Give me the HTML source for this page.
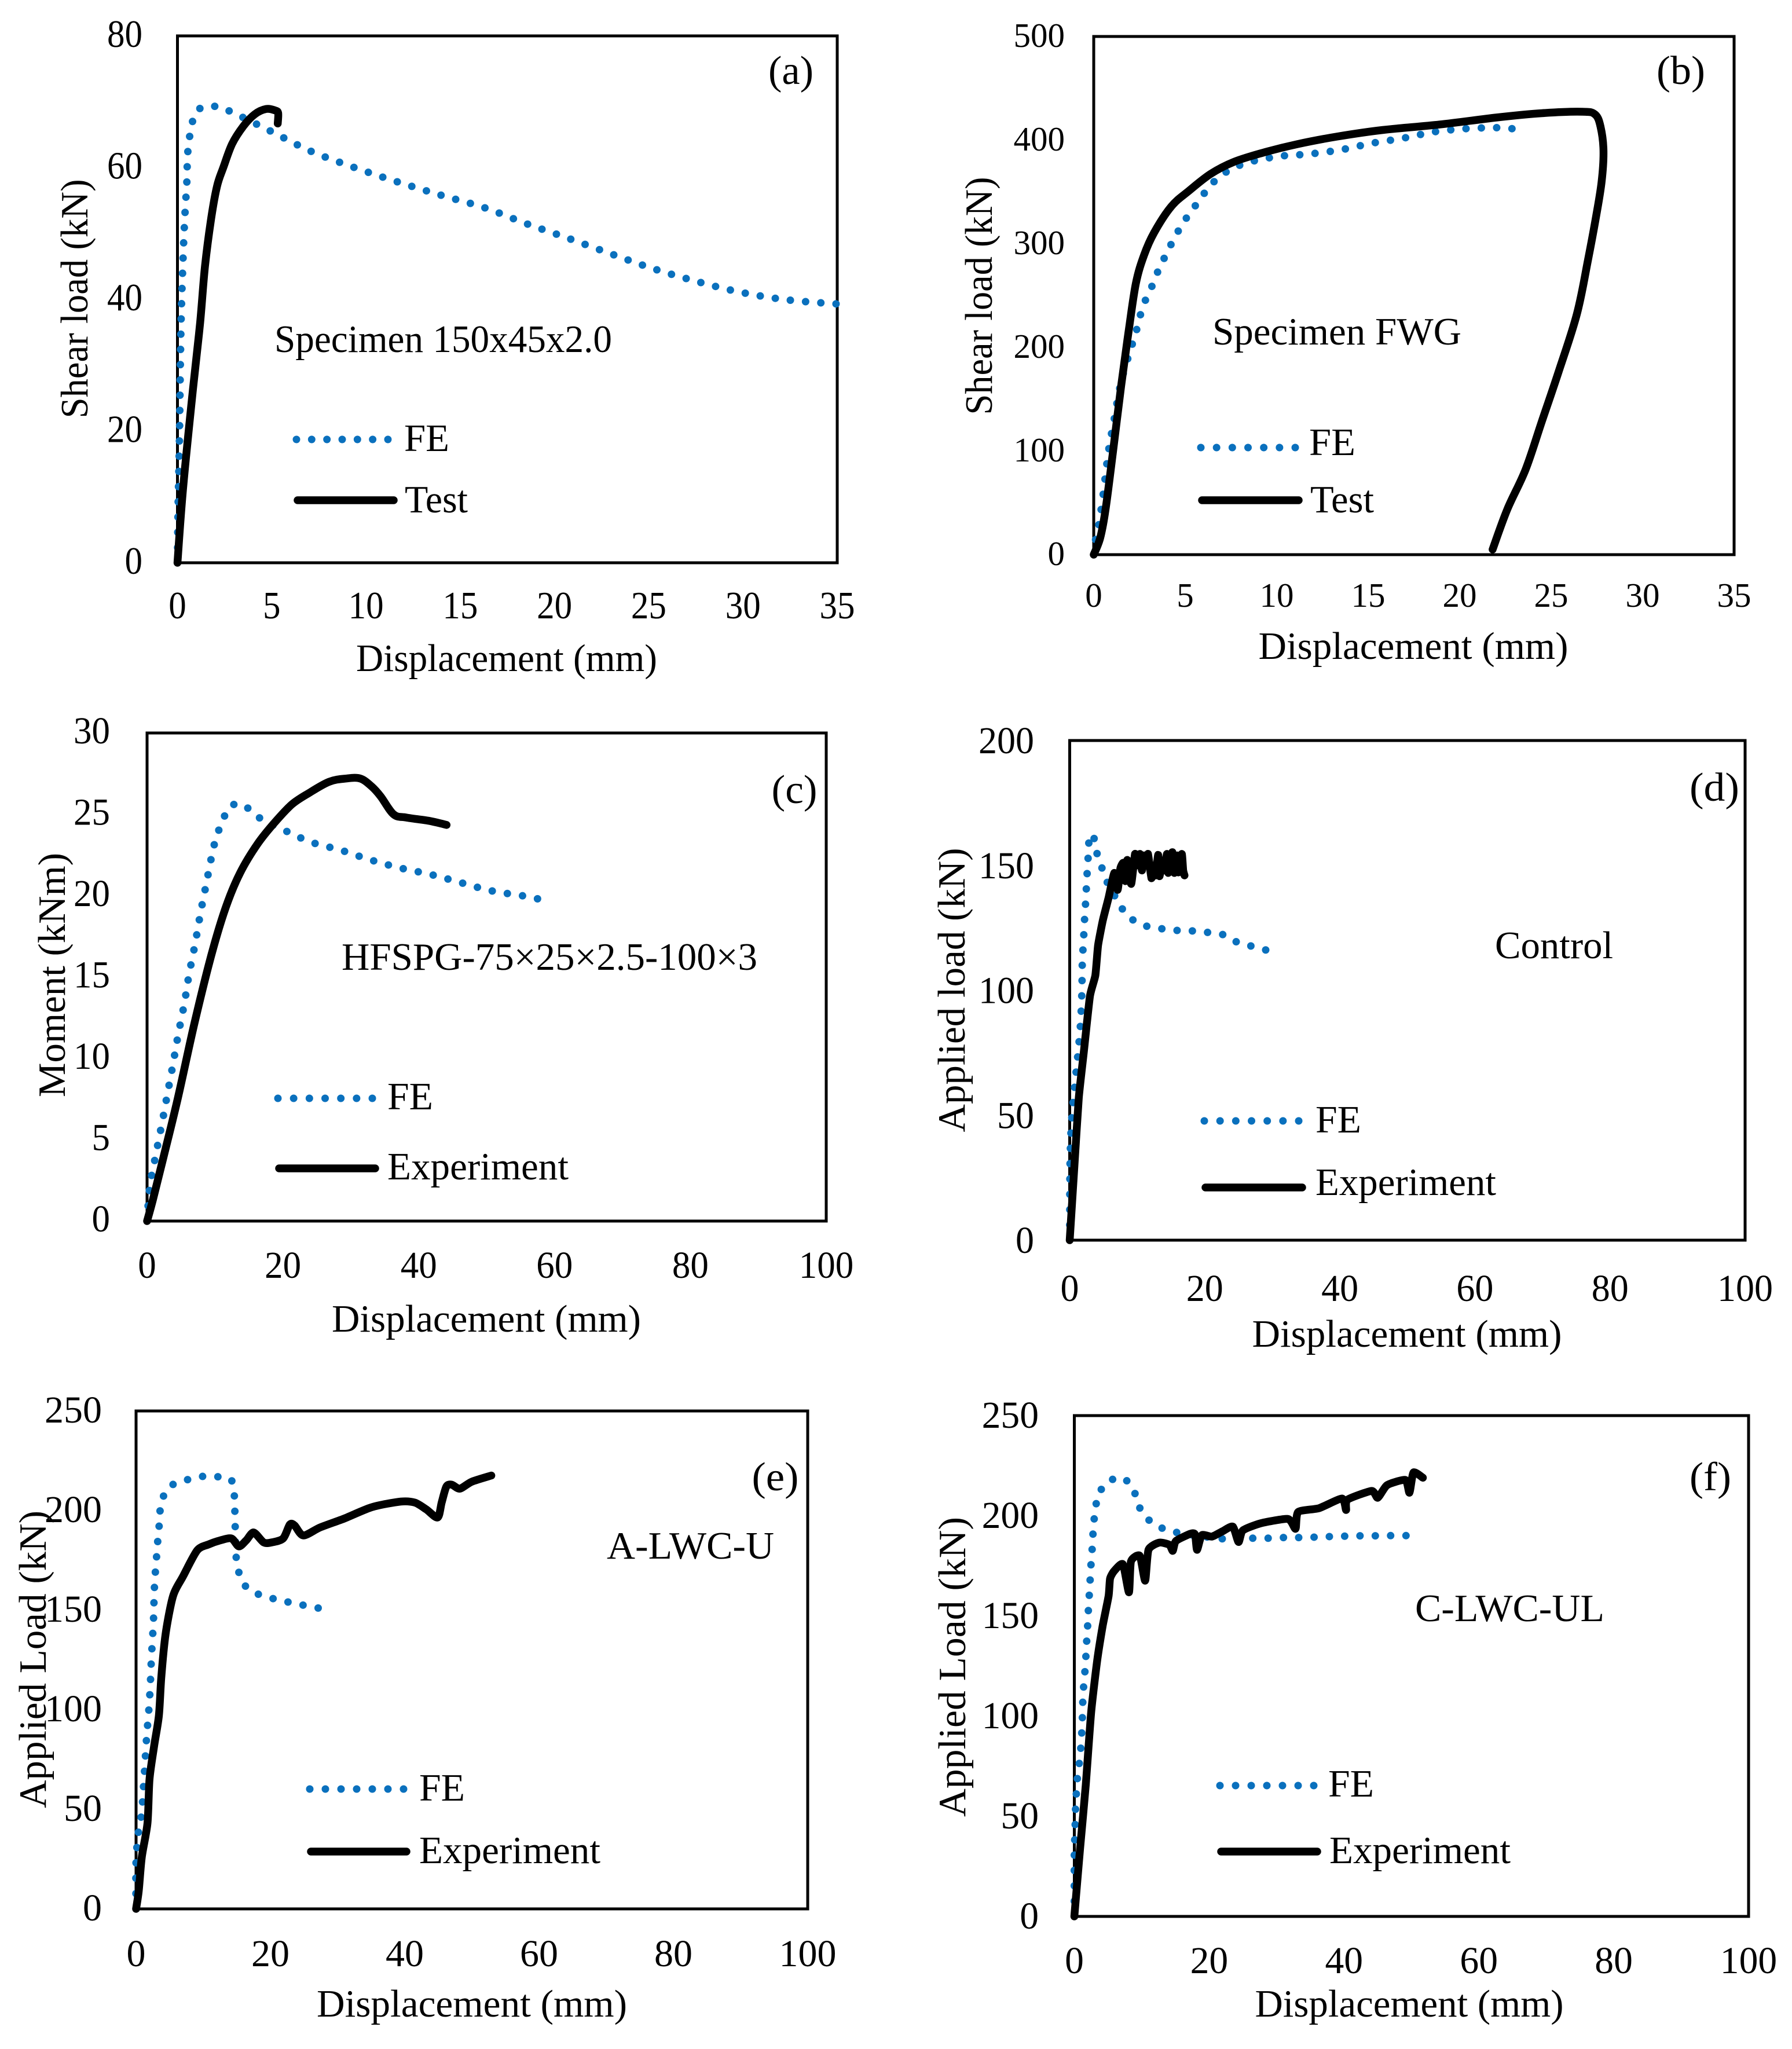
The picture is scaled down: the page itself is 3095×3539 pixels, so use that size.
<!DOCTYPE html>
<html lang="en">
<head>
<meta charset="utf-8">
<title>Load-displacement comparison of FE and test results</title>
<style>
html,body{margin:0;padding:0;background:#fff;width:3095px;height:3539px;overflow:hidden}
svg{display:block}
text{font-family:"Liberation Serif","Times New Roman",serif;fill:#000}
</style>
</head>
<body>
<svg id="figure" xmlns="http://www.w3.org/2000/svg" width="3095" height="3539" viewBox="0 0 3095 3539"></svg>
<script>
// ---------- Panel (a) ----------
const aXTicks = [0, 5, 10, 15, 20, 25, 30, 35];
const aYTicks = [0, 20, 40, 60, 80];
const aFeX = [0, 0.03, 0.1, 0.18, 0.3, 0.4, 0.5, 0.55, 0.8, 1.2, 2, 2.75, 4.9, 7.07, 9.4, 11.6, 14, 16.3, 18.5, 20.8, 23.1, 25.3, 27.7, 30, 32.4, 35];
const aFeY = [0, 8, 18, 35, 46.5, 53, 58, 62.4, 67, 69, 69.3, 68.6, 65.6, 62.5, 60, 57.9, 55.8, 53.9, 51.5, 49.2, 46.8, 44.6, 42.6, 41, 39.9, 39.3];
const aTestX = [0, 0.3, 0.82, 1.2, 1.46, 1.8, 2.1, 2.43, 2.9, 3.5, 4.1, 4.7, 5.16, 5.34, 5.32];
const aTestY = [0, 11.4, 26.3, 36.4, 45, 52.5, 57.2, 60, 63.6, 66.3, 68.1, 68.9, 68.7, 68.3, 66.7];

// ---------- Panel (b) ----------
const bXTicks = [0, 5, 10, 15, 20, 25, 30, 35];
const bYTicks = [0, 100, 200, 300, 400, 500];
const bFeX = [0, 0.03, 0.25, 0.5, 0.8, 1.1, 1.5, 2, 2.3, 2.5, 2.74, 3.1, 3.4, 3.74, 4.1, 4.5, 4.92, 5.4, 5.9, 6.4, 7.35, 8.35, 9.35, 10.2, 11.9, 13.6, 15.2, 16.95, 18.6, 20.3, 22, 22.9];
const bFeY = [0, 9, 26, 56, 99, 129, 167, 197, 214, 228, 242, 255.5, 269, 282, 295, 308.5, 321, 333, 345, 357, 370.5, 378, 382, 384.6, 386.8, 391, 397, 402, 408, 411, 412, 411];
const bTestX = [0, 0.35, 0.65, 1.05, 1.5, 1.9, 2.3, 2.75, 3.3, 4.24, 5.2, 6.4, 7.66, 9.2, 11.1, 13.3, 15.8, 18.9, 22, 24.5, 26.7, 27.4, 27.7, 27.86, 27.76, 27.45, 27, 26.4, 25.4, 24.5, 23.6, 22.6, 21.8];
const bTestY = [0, 16, 44, 99, 163, 214.5, 261.5, 289, 310.7, 336, 351, 367.5, 379, 387.6, 396, 403.4, 409.8, 415, 421.8, 426, 427.4, 424.8, 413, 389.7, 360, 325.6, 283, 231.6, 176, 129, 82, 43.6, 5];

// ---------- Panel (c) ----------
const cXTicks = [0, 20, 40, 60, 80, 100];
const cYTicks = [0, 5, 10, 15, 20, 25, 30];
const cFeX = [0, 0.4, 1.2, 2.1, 2.95, 3.8, 4.6, 5.5, 6.2, 7.1, 7.9, 8.8, 9.7, 10.3, 11.1, 12.3, 14.1, 15.8, 17.7, 19.8, 24.1, 28.5, 32.9, 37.3, 41.8, 46.2, 50.7, 55.2, 57.6];
const cFeY = [0, 2.1, 3.9, 5.8, 7.7, 9.6, 11.5, 13.4, 15.2, 17.1, 19, 20.9, 22.8, 23.7, 24.6, 25.5, 25.6, 25, 24.5, 24.1, 23.3, 22.8, 22.2, 21.7, 21.3, 20.8, 20.3, 20, 19.8];
const cTestX = [0, 0.85, 2.4, 4.5, 7, 9.5, 11.6, 13.7, 16.3, 18.8, 21.3, 23.8, 26.8, 29.3, 31.4, 33.1, 34.4, 36.3, 38.2, 41.5, 44.1];
const cTestY = [0, 1.3, 3.9, 7.5, 12.2, 16.4, 19.3, 21.4, 23.2, 24.5, 25.6, 26.3, 27, 27.2, 27.2, 26.7, 26.1, 25, 24.8, 24.6, 24.35];

// ---------- Panel (d) ----------
const dXTicks = [0, 20, 40, 60, 80, 100];
const dYTicks = [0, 50, 100, 150, 200];
const dFeX = [0, 0.05, 0.3, 0.75, 1.2, 1.6, 1.8, 1.87, 2, 2.12, 2.24, 2.38, 2.5, 2.63, 2.78, 2.92, 3.49, 3.95, 4.66, 5.43, 6.54, 7.68, 9.2, 11.26, 13.5, 15.8, 18.1, 20.4, 22.7, 24.7, 26.9, 29.1];
const dFeY = [0, 31, 48.4, 62, 74, 86.7, 99.4, 111.5, 117.7, 124, 130.2, 136.4, 142.8, 149, 155.2, 161.4, 162, 155.7, 149.9, 144, 138.4, 133, 128.5, 125.8, 124.7, 124, 123.8, 123.2, 122.3, 119.4, 117.7, 116.1];
const dTestX = [0, 0.7, 1.35, 2.1, 3, 3.8, 4.2, 4.9, 5.75, 6.6, 7.1, 7.5, 7.96, 8.25, 8.53, 9.1, 9.67, 10, 10.4, 10.7, 11, 11.3, 11.6, 12.1, 12.5, 12.7, 13.1, 13.3, 13.7, 14, 14.4, 14.6, 15.2, 15.5, 15.9, 16.1, 16.6, 16.8, 17];
const dTestY = [0, 30, 57, 75.6, 97.7, 106, 118, 128, 137, 147, 140.2, 148.8, 151, 143.7, 152.2, 142.6, 154.6, 150, 154.6, 148, 154, 150, 154.6, 144.9, 150, 146, 154.2, 145.7, 152, 148, 154.6, 147, 155.3, 147, 154, 147.2, 154.6, 148, 146];

// ---------- Panel (e) ----------
const eXTicks = [0, 20, 40, 60, 80, 100];
const eYTicks = [0, 50, 100, 150, 200, 250];
const eFeX = [0, 0, 0.4, 0.85, 1, 1.3, 1.45, 1.6, 1.8, 1.96, 2.1, 2.2, 2.3, 2.56, 2.64, 2.7, 2.8, 3, 3.15, 3.4, 3.5, 3.84, 5, 7.2, 9.5, 11.7, 14, 14.6, 14.75, 14.9, 15.3, 16.3, 18.2, 20.5, 22.7, 24.9, 27.2];
const eFeY = [0, 23.8, 40, 48, 56, 71.5, 79.7, 87.6, 95.6, 103, 111, 119, 127, 142.6, 150.6, 158, 166, 174, 182, 190, 197, 205, 212, 215, 217, 217, 216, 208.5, 193, 177, 169, 162, 158, 155.7, 154, 152.5, 151];
const eTestX = [0, 0.4, 0.85, 1.7, 2, 2.7, 3.4, 3.75, 4.4, 5.5, 7, 9.1, 10.8, 12.5, 14.2, 15.3, 16.4, 17.5, 19, 20.2, 21.9, 22.9, 23.6, 24.9, 27.4, 31, 35.1, 39.4, 41.5, 43.2, 44.9, 45.5, 46.2, 47, 48.2, 50, 52.9];
const eTestY = [0, 9, 26, 43, 65, 82, 97, 116, 138, 157, 167, 180, 183, 185, 186, 182, 185, 189, 184, 184, 186, 193, 192.5, 187.5, 191.5, 196, 201.7, 204.5, 204, 200.6, 196.5, 204, 212, 213, 211, 214.5, 217.6];

// ---------- Panel (f) ----------
const fXTicks = [0, 20, 40, 60, 80, 100];
const fYTicks = [0, 50, 100, 150, 200, 250];
const fFeX = [0, 0, 0.1, 0.2, 0.5, 0.85, 1, 1.15, 1.3, 1.65, 1.76, 1.92, 2.03, 2.15, 2.3, 2.41, 2.6, 2.72, 2.88, 3.14, 3.7, 5.2, 7.2, 8.76, 9.45, 10.7, 12.6, 14.7, 21.6, 23.85, 26.1, 28.5, 30.8, 33, 35.4, 37.7, 40, 42.3, 44.6, 46.9, 49.3];
const fFeY = [0, 31, 42, 55, 71, 79, 87, 95, 110.7, 125.6, 133.8, 141.5, 149.3, 157, 165, 172.8, 181, 188.5, 196, 204, 211.5, 217.3, 218.8, 213, 205.7, 199, 194.6, 192, 188.6, 188.8, 188.8, 188.8, 189.1, 189.1, 189.3, 189.6, 189.8, 190, 190, 190.1, 190.1];
const fTestX = [0, 0.85, 1.7, 2.5, 3.4, 4.2, 5.08, 5.3, 5.9, 7.2, 8.1, 8.4, 9.7, 10.5, 11, 12.6, 14.1, 14.6, 15.07, 17.2, 17.9, 18.2, 18.9, 20.4, 21.95, 23.5, 24.35, 25, 27.7, 31.7, 32.8, 33.2, 36.3, 39.7, 40.3, 40.5, 44.1, 45, 46.4, 49.1, 49.7, 50.3, 51.7];
const fTestY = [0, 33.8, 65.8, 102, 128, 145, 160, 168.6, 172.4, 175.8, 161.8, 177.2, 180, 167.6, 183, 186.6, 185.5, 182.5, 187.4, 191, 190.7, 183, 190.3, 189.6, 192.2, 194.6, 186.9, 192.7, 196.3, 198.4, 193.5, 201.9, 203.8, 208.6, 202.9, 208, 212.4, 209, 215.3, 217.9, 211.5, 221.6, 219];

const FE_COLOR = '#0a70bd';
const TEXT_SIZE = 67;
const NS = 'http://www.w3.org/2000/svg';
const figure = document.getElementById('figure');

function makeSvg(tag, parent) {
  const el = document.createElementNS(NS, tag);
  parent.appendChild(el);
  return el;
}

function addText(parent, str, x, y, size, anchor, fitWidth) {
  const t = makeSvg('text', parent);
  t.textContent = str;
  t.setAttribute('x', x);
  t.setAttribute('y', y);
  t.setAttribute('font-size', size);
  t.setAttribute('text-anchor', anchor);
  if (fitWidth) {
    t.setAttribute('textLength', fitWidth);
    t.setAttribute('lengthAdjust', 'spacingAndGlyphs');
  }
  return t;
}

function drawCurve(parent, xs, ys, sx, sy, smooth) {
  const path = makeSvg('path', parent);
  const px = xs.map(sx);
  const py = ys.map(sy);
  let d = 'M' + px[0].toFixed(1) + ' ' + py[0].toFixed(1);
  for (let i = 0; i < px.length - 1; i++) {
    const a = Math.max(i - 1, 0);
    const b = Math.min(i + 2, px.length - 1);
    const k = smooth / 6;
    const c1x = px[i] + (px[i + 1] - px[a]) * k;
    const c1y = py[i] + (py[i + 1] - py[a]) * k;
    const c2x = px[i + 1] - (px[b] - px[i]) * k;
    const c2y = py[i + 1] - (py[b] - py[i]) * k;
    d += 'C' + c1x.toFixed(1) + ' ' + c1y.toFixed(1) + ' ' + c2x.toFixed(1) + ' ' + c2y.toFixed(1) + ' ' + px[i + 1].toFixed(1) + ' ' + py[i + 1].toFixed(1);
  }
  path.setAttribute('d', d);
  path.setAttribute('fill', 'none');
  path.setAttribute('stroke-linecap', 'round');
  path.setAttribute('stroke-linejoin', 'round');
  return path;
}

function drawPanel(p) {
  const g = makeSvg('g', figure);
  
  

  const xMax = p.xTicks[p.xTicks.length - 1];
  const yMax = p.yTicks[p.yTicks.length - 1];
  const sx = v => p.left + (p.right - p.left) * v / xMax;
  const sy = v => p.bottom - (p.bottom - p.top) * v / yMax;

  const frame = makeSvg('rect', g);
  
  
  frame.setAttribute('x', p.left);
  frame.setAttribute('y', p.top);
  frame.setAttribute('width', p.right - p.left);
  frame.setAttribute('height', p.bottom - p.top);
  frame.setAttribute('fill', '#fff');
  frame.setAttribute('stroke', '#000');
  frame.setAttribute('stroke-width', '5');

  p.xTicks.forEach(v => {
    const s = String(v);
    const t = addText(g, s, sx(v), p.xLabelY, p.tickSize, 'middle', s.length * p.digitW);
    
    
  });
  p.yTicks.forEach(v => {
    const s = String(v);
    const t = addText(g, s, p.yLabelX, sy(v) + p.yLabelDy, p.tickSize, 'end', s.length * p.digitW);
    
    
  });

  const xTitle = addText(g, 'Displacement (mm)', p.xTitle[0], p.xTitle[1], TEXT_SIZE, 'middle', p.xTitle[2]);
  
  

  const yTitle = addText(g, p.yTitleText, p.yTitle[0], p.yTitle[1], TEXT_SIZE, 'middle', p.yTitle[2]);
  
  
  yTitle.setAttribute('transform', 'rotate(-90 ' + p.yTitle[0] + ' ' + p.yTitle[1] + ')');

  const letter = addText(g, p.letter, p.letterPos[0], p.letterPos[1], 70, 'middle', p.letterPos[2]);
  
  

  const note = addText(g, p.note, p.notePos[0], p.notePos[1], TEXT_SIZE, 'start', p.notePos[2]);
  
  

  const fe = drawCurve(g, p.feX, p.feY, sx, sy, 1);
  
  
  fe.setAttribute('stroke', FE_COLOR);
  fe.setAttribute('stroke-width', '13');
  const feLength = fe.getTotalLength();
  fe.setAttribute('stroke-dasharray', '0 ' + (feLength / Math.round(feLength / 26.5) - 0.03).toFixed(3));

  const test = drawCurve(g, p.testX, p.testY, sx, sy, p.smooth);
  
  
  test.setAttribute('stroke', '#000');
  test.setAttribute('stroke-width', '13.5');

  const feKey = makeSvg('line', g);
  
  
  feKey.setAttribute('x1', p.legFe[0]);
  feKey.setAttribute('x2', p.legFe[1] + 1);
  feKey.setAttribute('y1', p.legFe[2]);
  feKey.setAttribute('y2', p.legFe[2]);
  feKey.setAttribute('stroke', FE_COLOR);
  feKey.setAttribute('stroke-width', '13');
  feKey.setAttribute('stroke-linecap', 'round');
  feKey.setAttribute('stroke-dasharray', '0 ' + ((p.legFe[1] - p.legFe[0]) / 6).toFixed(2));

  const feLabel = addText(g, 'FE', p.legFeText[0], p.legFeText[1], TEXT_SIZE, 'start', p.legFeText[2]);
  
  

  const testKey = makeSvg('line', g);
  
  
  testKey.setAttribute('x1', p.legTest[0]);
  testKey.setAttribute('x2', p.legTest[1]);
  testKey.setAttribute('y1', p.legTest[2]);
  testKey.setAttribute('y2', p.legTest[2]);
  testKey.setAttribute('stroke', '#000');
  testKey.setAttribute('stroke-width', '13.5');
  testKey.setAttribute('stroke-linecap', 'round');

  const testLabel = addText(g, p.legName, p.legTestText[0], p.legTestText[1], TEXT_SIZE, 'start', p.legTestText[2]);
  
  
}

drawPanel({
  left: 306.5, right: 1446, top: 62, bottom: 972, smooth: 1,
  xTicks: aXTicks, yTicks: aYTicks, feX: aFeX, feY: aFeY, testX: aTestX, testY: aTestY,
  tickSize: 67, digitW: 30.5, xLabelY: 1068, yLabelX: 246, yLabelDy: 19,
  xTitle: [875, 1159, 520], yTitleText: 'Shear load (kN)', yTitle: [151, 516, 413],
  letter: '(a)', letterPos: [1366, 145, 78],
  note: 'Specimen 150x45x2.0', notePos: [474, 608, 583],
  legFe: [512, 670, 759], legFeText: [698, 779, 78],
  legTest: [514, 680, 864], legTestText: [699, 885, 109], legName: 'Test'
});
drawPanel({
  left: 1889, right: 2995, top: 63, bottom: 958, smooth: 1,
  xTicks: bXTicks, yTicks: bYTicks, feX: bFeX, feY: bFeY, testX: bTestX, testY: bTestY,
  tickSize: 59, digitW: 29.5, xLabelY: 1048, yLabelX: 1839, yLabelDy: 18,
  xTitle: [2441, 1138, 535], yTitleText: 'Shear load (kN)', yTitle: [1713, 511, 411],
  letter: '(b)', letterPos: [2903, 145, 84],
  note: 'Specimen FWG', notePos: [2094, 595, 430],
  legFe: [2074, 2237, 773], legFeText: [2261, 786, 80],
  legTest: [2076, 2243, 864], legTestText: [2263, 885, 110], legName: 'Test'
});
drawPanel({
  left: 254, right: 1427, top: 1266, bottom: 2109, smooth: 1,
  xTicks: cXTicks, yTicks: cYTicks, feX: cFeX, feY: cFeY, testX: cTestX, testY: cTestY,
  tickSize: 66, digitW: 31.5, xLabelY: 2207, yLabelX: 190, yLabelDy: 18,
  xTitle: [840, 2300, 534], yTitleText: 'Moment (kNm)', yTitle: [112, 1684, 422],
  letter: '(c)', letterPos: [1372, 1387, 79],
  note: 'HFSPG-75×25×2.5-100×3', notePos: [590, 1675, 718],
  legFe: [480, 643, 1897], legFeText: [669, 1916, 79],
  legTest: [482, 648, 2018], legTestText: [669, 2037, 313], legName: 'Experiment'
});
drawPanel({
  left: 1847.5, right: 3014, top: 1279, bottom: 2142, smooth: 0.5,
  xTicks: dXTicks, yTicks: dYTicks, feX: dFeX, feY: dFeY, testX: dTestX, testY: dTestY,
  tickSize: 66, digitW: 32, xLabelY: 2247, yLabelX: 1786, yLabelDy: 22,
  xTitle: [2430, 2326, 535], yTitleText: 'Applied load (kN)', yTitle: [1666, 1710, 491],
  letter: '(d)', letterPos: [2961, 1383, 86],
  note: 'Control', notePos: [2582, 1655, 204],
  legFe: [2080, 2243, 1936], legFeText: [2272, 1956, 79],
  legTest: [2082, 2249, 2051], legTestText: [2272, 2064, 312], legName: 'Experiment'
});
drawPanel({
  left: 235, right: 1395, top: 2437, bottom: 3297, smooth: 0.8,
  xTicks: eXTicks, yTicks: eYTicks, feX: eFeX, feY: eFeY, testX: eTestX, testY: eTestY,
  tickSize: 66, digitW: 33, xLabelY: 3396, yLabelX: 176, yLabelDy: 20,
  xTitle: [815, 3483, 536], yTitleText: 'Applied Load (kN)', yTitle: [79, 2866, 514],
  letter: '(e)', letterPos: [1339, 2574, 81],
  note: 'A-LWC-U', notePos: [1048, 2692, 289],
  legFe: [535, 697, 3090], legFeText: [724, 3110, 79],
  legTest: [537, 702, 3198], legTestText: [724, 3218, 313], legName: 'Experiment'
});
drawPanel({
  left: 1855.5, right: 3020, top: 2445, bottom: 3310, smooth: 0.6,
  xTicks: fXTicks, yTicks: fYTicks, feX: fFeX, feY: fFeY, testX: fTestX, testY: fTestY,
  tickSize: 66, digitW: 32.8, xLabelY: 3408, yLabelX: 1794, yLabelDy: 21,
  xTitle: [2434, 3483, 533], yTitleText: 'Applied Load (kN)', yTitle: [1667, 2879, 518],
  letter: '(f)', letterPos: [2954, 2574, 72],
  note: 'C-LWC-UL', notePos: [2444, 2800, 327],
  legFe: [2107, 2269, 3084], legFeText: [2294, 3103, 79],
  legTest: [2109, 2275, 3198], legTestText: [2296, 3218, 313], legName: 'Experiment'
});
</script>
</body>
</html>
